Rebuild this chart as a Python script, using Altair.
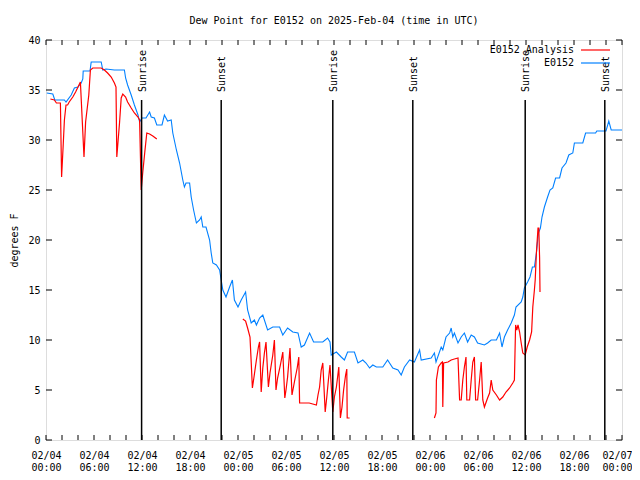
import altair as alt
import pandas as pd

FONT = "DejaVu Sans Mono"

# E0152 observed dew point (hours since 2025-02-04 00:00 UTC, deg F)
blue_h = [0.1, 0.85, 1.1, 2.3, 2.5, 3.15, 3.55, 4.0, 4.4, 4.6,
          4.65, 5.5, 5.65, 6.9, 7.1, 7.5, 8.55, 9.8, 9.95, 10.2,
          10.65, 11.05, 11.5, 11.7, 12.0, 12.5, 12.95, 13.15, 13.55, 13.85,
          14.5, 14.8, 15.2, 15.65, 15.85, 16.3, 16.7, 17.1, 17.3, 17.5,
          17.95, 18.15, 18.45, 18.8, 19.2, 19.4, 19.6, 20.0, 20.45, 20.65,
          20.85, 21.3, 21.7, 21.9, 22.1, 22.5, 22.95, 23.3, 23.55, 24.0,
          24.4, 24.95, 25.2, 25.65, 26.05, 26.3, 26.7, 27.1, 27.7, 28.35,
          29.2, 29.6, 30.2, 30.85, 31.5, 31.9, 32.3, 32.95, 33.45, 34.6,
          35.2, 35.5, 35.65, 36.3, 36.9, 37.3, 37.7, 38.55, 39.0, 39.6,
          40.0, 40.45, 40.85, 41.3, 42.1, 42.7, 43.35, 44.0, 44.4, 44.8,
          45.45, 46.05, 46.7, 46.9, 48.15, 48.55, 48.75, 49.4, 49.6, 50.0,
          50.45, 50.65, 50.85, 51.05, 51.5, 51.9, 52.3, 52.7, 53.15, 53.55,
          53.95, 54.8, 55.2, 55.65, 56.3, 56.7, 57.0, 57.3, 57.7, 58.15,
          58.55, 58.75, 59.4, 59.6, 59.8, 60.2, 60.5, 60.8, 61.05, 61.3,
          61.55, 61.8, 62.0, 62.3, 62.7, 63.0, 63.35, 63.7, 64.2, 64.5,
          65.0, 65.35, 65.85, 66.05, 67.1, 67.45, 68.7, 68.85, 70.0, 70.35,
          70.65, 72.0]
blue_v = [34.7, 34.6, 34.0, 34.0, 33.8, 34.5, 35.2, 35.3, 35.7, 36.1,
          36.9, 36.9, 37.8, 37.8, 37.0, 37.1, 37.0, 37.0, 36.2, 35.5,
          34.5, 33.5, 32.5, 31.8, 32.2, 32.2, 32.8, 32.3, 32.2, 31.5,
          31.5, 32.5, 31.9, 32.0, 30.7, 29.0, 27.7, 26.0, 25.3, 25.7,
          25.7, 24.3, 23.0, 21.7, 22.0, 22.3, 21.3, 21.3, 20.0, 18.7,
          17.7, 17.5, 17.0, 16.0, 15.0, 14.3, 15.3, 16.0, 14.0, 13.3,
          14.0, 14.8, 13.0, 11.7, 12.0, 11.5, 12.2, 12.5, 11.0, 11.3,
          11.3, 10.5, 11.2, 10.8, 10.7, 9.3, 9.5, 10.7, 9.8, 9.8,
          10.2, 9.8, 8.5, 8.8, 8.3, 8.0, 8.8, 8.8, 7.7, 8.0,
          7.7, 7.2, 7.5, 7.3, 7.3, 8.0, 7.2, 7.0, 6.5, 7.3,
          8.0, 7.8, 9.0, 8.0, 8.2, 8.7, 7.8, 9.3, 9.0, 10.3,
          10.7, 11.2, 10.3, 10.7, 9.7, 10.3, 10.7, 9.8, 10.5, 10.3,
          9.7, 9.5, 9.7, 10.0, 10.0, 10.7, 9.3, 10.3, 11.0, 11.7,
          12.5, 13.3, 13.8, 14.3, 15.2, 15.8, 16.3, 17.3, 17.3, 18.7,
          20.7, 21.2, 22.3, 23.3, 24.3, 25.0, 25.2, 26.2, 26.2, 27.2,
          27.7, 28.5, 28.7, 29.7, 29.7, 30.7, 30.7, 30.9, 30.9, 31.9,
          31.0, 31.0]

# E0152 analysis (three separate segments)
red1_h = [0.55, 1.05, 1.3, 1.8, 1.95, 2.15, 2.3, 2.5, 2.7, 2.9,
          3.35, 3.7, 4.0, 4.3, 4.75, 4.95, 5.35, 5.55, 5.85, 6.5,
          6.9, 7.3, 7.7, 8.15, 8.55, 8.75, 8.85, 9.2, 9.4, 9.6,
          9.95, 10.2, 10.65, 11.05, 11.5, 11.7, 11.9, 12.1, 12.35, 12.6,
          12.95, 13.35, 13.85]
red1_v = [34.1, 34.0, 33.7, 33.7, 26.3, 29.5, 32.0, 33.5, 33.5, 33.8,
          34.3, 34.8, 35.3, 35.8, 28.3, 31.8, 34.5, 37.0, 37.2, 37.2,
          37.2, 37.0, 36.7, 36.3, 35.7, 35.3, 28.3, 31.8, 34.2, 34.6,
          34.3, 33.8, 33.2, 32.7, 32.3, 32.0, 25.0, 26.8, 28.8, 30.7,
          30.6, 30.4, 30.1]
red2_h = [24.6, 24.95, 25.2, 25.5, 25.65, 25.8, 26.0, 26.3, 26.55, 26.7,
          26.9, 27.1, 27.3, 27.5, 27.8, 28.0, 28.35, 28.55, 28.75, 28.95,
          29.3, 29.6, 29.85, 30.0, 30.2, 30.5, 30.75, 31.05, 31.4, 31.6,
          31.7, 32.9, 33.8, 34.0, 34.2, 34.4, 34.6, 34.9, 35.1, 35.3,
          35.5, 35.85, 36.05, 36.3, 36.6, 36.8, 37.0, 37.2, 37.45, 37.6,
          37.65, 37.95]
red2_v = [12.1, 11.9, 11.2, 10.3, 7.8, 5.2, 6.3, 8.0, 9.3, 9.8,
          4.8, 7.2, 8.7, 9.8, 5.3, 6.7, 8.5, 10.0, 5.0, 6.2,
          7.5, 8.8, 4.2, 5.0, 6.3, 9.2, 4.5, 5.8, 7.2, 8.3,
          3.7, 3.7, 3.5, 4.5, 5.3, 7.0, 7.7, 2.8, 4.3, 6.0,
          7.5, 2.8, 4.3, 5.3, 7.3, 2.2, 3.3, 5.0, 6.5, 7.1,
          2.2, 2.2]
red3_h = [48.55, 48.75, 48.8, 49.05, 49.4, 49.55, 49.6, 49.7, 50.25, 50.65,
          51.05, 51.5, 51.7, 51.9, 52.1, 52.3, 52.5, 52.6, 52.95, 53.15,
          53.35, 53.55, 53.7, 53.95, 54.2, 54.4, 54.6, 54.8, 55.2, 55.45,
          55.65, 55.85, 56.3, 56.7, 57.1, 57.5, 57.95, 58.35, 58.55, 58.7,
          58.85, 59.0, 59.2, 59.4, 59.6, 59.9, 60.15, 60.45, 60.7, 60.85,
          61.05, 61.15, 61.3, 61.5, 61.6, 61.7, 61.75]
red3_v = [2.2, 2.7, 6.0, 7.3, 7.7, 7.8, 3.3, 7.7, 7.8, 8.0,
          8.1, 8.2, 4.0, 4.0, 6.0, 7.3, 8.3, 4.0, 4.0, 6.0,
          7.8, 8.3, 4.0, 4.0, 6.0, 7.8, 4.0, 3.3, 4.2, 4.7,
          6.0, 5.0, 4.5, 4.0, 4.3, 4.8, 5.2, 5.7, 6.0, 11.5,
          11.0, 11.5, 10.8, 9.7, 8.7, 8.5, 9.3, 10.0, 10.8, 13.3,
          15.0, 16.0, 18.7, 21.2, 21.2, 18.2, 14.8]

sun_h = [11.95, 21.9, 35.85, 45.85, 59.9, 69.85]
sun_lbl = ["Sunrise", "Sunset", "Sunrise", "Sunset", "Sunrise", "Sunset"]

x_major = [0, 6, 12, 18, 24, 30, 36, 42, 48, 54, 60, 66, 72]
x_minor = list(range(0, 73, 2))
y_ticks = [0, 5, 10, 15, 20, 25, 30, 35, 40]

legend_labels = ["E0152 Analysis", "E0152"]
legend_colors = ["#ff0000", "#0080ff"]

W, H = 576, 400

blue_df = pd.DataFrame({"h": blue_h, "v": blue_v})
red_df = pd.concat([
    pd.DataFrame({"h": red1_h, "v": red1_v, "seg": 1}),
    pd.DataFrame({"h": red2_h, "v": red2_v, "seg": 2}),
    pd.DataFrame({"h": red3_h, "v": red3_v, "seg": 3}),
])
sun_df = pd.DataFrame({"h": sun_h, "lbl": sun_lbl})
xmin_df = pd.DataFrame({"h": x_minor})
ytk_df = pd.DataFrame({"v": y_ticks})

xscale = alt.Scale(domain=[0, 72], nice=False, zero=False)
yscale = alt.Scale(domain=[0, 40], nice=False)

x_axis = alt.Axis(
    values=x_major,
    labelExpr="['02/0' + (4 + floor(datum.value / 24)), ((datum.value % 24) < 10 ? '0' : '') + (datum.value % 24) + ':00']",
    ticks=False, domain=False, grid=False, title=None,
    labelFont=FONT, labelFontSize=10, labelColor="black",
    labelPadding=10, labelLineHeight=12, labelBaseline="top",
    labelFlush=False, labelOverlap=False, labelBound=False,
    labelOffset={"condition": {"test": "datum.value == 72", "value": -5}, "value": 0},
)
y_axis = alt.Axis(
    values=y_ticks, ticks=False, domain=False, grid=False,
    title="degrees F", titleFont=FONT, titleFontSize=10, titleFontWeight="normal",
    titleColor="black", titleX=-32, titleY=200, titleAngle=270,
    titleBaseline="middle", titleAlign="center",
    labelFont=FONT, labelFontSize=10, labelColor="black", labelPadding=6,
)

X = alt.X("h:Q", scale=xscale, axis=x_axis)
Y = alt.Y("v:Q", scale=yscale, axis=y_axis)

blue = alt.Chart(blue_df).mark_line(color="#0080ff", strokeWidth=1.1).encode(x=X, y=Y)
red = alt.Chart(red_df).mark_line(color="#ff0000", strokeWidth=1.2).encode(
    x=X, y=Y, detail="seg:N")

sun_rules = alt.Chart(sun_df).mark_rule(color="black", strokeWidth=1.5).encode(
    x=X, y=alt.value(60), y2=alt.value(H))
sun_text = alt.Chart(sun_df).mark_text(
    angle=270, align="left", baseline="middle", font=FONT, fontSize=10,
    color="black", dy=1).encode(x=X, y=alt.value(52), text="lbl:N")

tk = dict(color="black", strokeWidth=1)
xb = alt.Chart(xmin_df).mark_rule(**tk).encode(x=X, y=alt.value(H - 5), y2=alt.value(H))
xt = alt.Chart(xmin_df).mark_rule(**tk).encode(x=X, y=alt.value(0), y2=alt.value(5))
yl = alt.Chart(ytk_df).mark_rule(**tk).encode(y=Y, x=alt.value(0), x2=alt.value(6))
yr = alt.Chart(ytk_df).mark_rule(**tk).encode(y=Y, x=alt.value(W - 6), x2=alt.value(W))

one = pd.DataFrame({"d": [0]})
leg_layers = []
for i, (lab, col) in enumerate(zip(legend_labels, legend_colors)):
    yy = 10 + 13 * i
    leg_layers.append(alt.Chart(one).mark_text(
        text=lab, align="right", baseline="middle", font=FONT, fontSize=10,
        color="black").encode(x=alt.value(528), y=alt.value(yy)))
    leg_layers.append(alt.Chart(one).mark_rule(color=col, strokeWidth=1.2).encode(
        x=alt.value(535), x2=alt.value(564), y=alt.value(yy)))

chart = alt.layer(
    blue, red, sun_rules, sun_text, xb, xt, yl, yr, *leg_layers
).properties(
    width=W, height=H,
    autosize="none",
    padding={"left": 38, "top": 32, "right": 10, "bottom": 32},
    title=alt.TitleParams(
        "Dew Point for E0152 on 2025-Feb-04 (time in UTC)",
        font=FONT, fontSize=10, fontWeight="normal", color="black",
        anchor="middle", offset=9),
).configure_view(
    stroke="black", strokeWidth=1
).configure(background="white")

chart.save("out.html", embed_options={"renderer": "svg", "actions": False})
